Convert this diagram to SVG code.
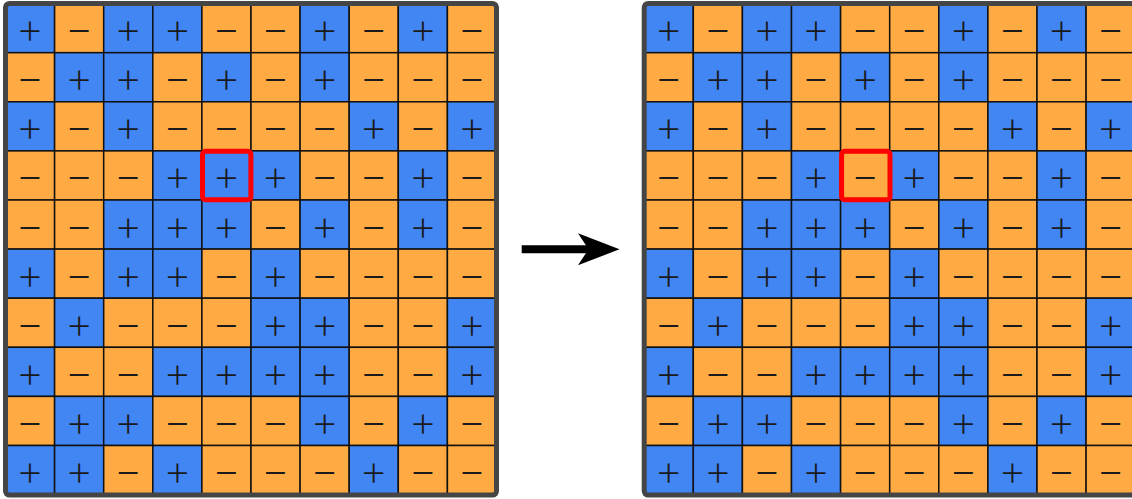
<svg xmlns="http://www.w3.org/2000/svg" xmlns:xlink="http://www.w3.org/1999/xlink" width="1132" height="499" viewBox="0 0 1132 499">
<style>
.b{fill:#4286f4;stroke:#111;stroke-width:1.5}
.o{fill:#ffaa42;stroke:#111;stroke-width:1.5}
.t{font-family:Inter,"Noto Sans",sans-serif;font-weight:200;font-size:44px;fill:#1a1a1a;text-anchor:middle;dominant-baseline:central}
.frame{fill:none;stroke:#454545;stroke-width:5}
.hl{fill:none;stroke:#ff0000;stroke-width:5}
</style>
<defs>
<g id="p"><rect width="49.1" height="49.1" class="b"/><text x="24.55" y="24.55" class="t">+</text></g>
<g id="m"><rect width="49.1" height="49.1" class="o"/><text x="24.55" y="24.55" class="t">−</text></g>
<g id="rows">
<use xlink:href="#p" x="0" y="0"/><use xlink:href="#m" x="49.1" y="0"/><use xlink:href="#p" x="98.2" y="0"/><use xlink:href="#p" x="147.3" y="0"/><use xlink:href="#m" x="196.4" y="0"/><use xlink:href="#m" x="245.5" y="0"/><use xlink:href="#p" x="294.6" y="0"/><use xlink:href="#m" x="343.7" y="0"/><use xlink:href="#p" x="392.8" y="0"/><use xlink:href="#m" x="441.9" y="0"/>
<use xlink:href="#m" x="0" y="49.1"/><use xlink:href="#p" x="49.1" y="49.1"/><use xlink:href="#p" x="98.2" y="49.1"/><use xlink:href="#m" x="147.3" y="49.1"/><use xlink:href="#p" x="196.4" y="49.1"/><use xlink:href="#m" x="245.5" y="49.1"/><use xlink:href="#p" x="294.6" y="49.1"/><use xlink:href="#m" x="343.7" y="49.1"/><use xlink:href="#m" x="392.8" y="49.1"/><use xlink:href="#m" x="441.9" y="49.1"/>
<use xlink:href="#p" x="0" y="98.2"/><use xlink:href="#m" x="49.1" y="98.2"/><use xlink:href="#p" x="98.2" y="98.2"/><use xlink:href="#m" x="147.3" y="98.2"/><use xlink:href="#m" x="196.4" y="98.2"/><use xlink:href="#m" x="245.5" y="98.2"/><use xlink:href="#m" x="294.6" y="98.2"/><use xlink:href="#p" x="343.7" y="98.2"/><use xlink:href="#m" x="392.8" y="98.2"/><use xlink:href="#p" x="441.9" y="98.2"/>
<use xlink:href="#m" x="0" y="147.3"/><use xlink:href="#m" x="49.1" y="147.3"/><use xlink:href="#m" x="98.2" y="147.3"/><use xlink:href="#p" x="147.3" y="147.3"/><use xlink:href="#p" x="245.5" y="147.3"/><use xlink:href="#m" x="294.6" y="147.3"/><use xlink:href="#m" x="343.7" y="147.3"/><use xlink:href="#p" x="392.8" y="147.3"/><use xlink:href="#m" x="441.9" y="147.3"/>
<use xlink:href="#m" x="0" y="196.4"/><use xlink:href="#m" x="49.1" y="196.4"/><use xlink:href="#p" x="98.2" y="196.4"/><use xlink:href="#p" x="147.3" y="196.4"/><use xlink:href="#p" x="196.4" y="196.4"/><use xlink:href="#m" x="245.5" y="196.4"/><use xlink:href="#p" x="294.6" y="196.4"/><use xlink:href="#m" x="343.7" y="196.4"/><use xlink:href="#p" x="392.8" y="196.4"/><use xlink:href="#m" x="441.9" y="196.4"/>
<use xlink:href="#p" x="0" y="245.5"/><use xlink:href="#m" x="49.1" y="245.5"/><use xlink:href="#p" x="98.2" y="245.5"/><use xlink:href="#p" x="147.3" y="245.5"/><use xlink:href="#m" x="196.4" y="245.5"/><use xlink:href="#p" x="245.5" y="245.5"/><use xlink:href="#m" x="294.6" y="245.5"/><use xlink:href="#m" x="343.7" y="245.5"/><use xlink:href="#m" x="392.8" y="245.5"/><use xlink:href="#m" x="441.9" y="245.5"/>
<use xlink:href="#m" x="0" y="294.6"/><use xlink:href="#p" x="49.1" y="294.6"/><use xlink:href="#m" x="98.2" y="294.6"/><use xlink:href="#m" x="147.3" y="294.6"/><use xlink:href="#m" x="196.4" y="294.6"/><use xlink:href="#p" x="245.5" y="294.6"/><use xlink:href="#p" x="294.6" y="294.6"/><use xlink:href="#m" x="343.7" y="294.6"/><use xlink:href="#m" x="392.8" y="294.6"/><use xlink:href="#p" x="441.9" y="294.6"/>
<use xlink:href="#p" x="0" y="343.7"/><use xlink:href="#m" x="49.1" y="343.7"/><use xlink:href="#m" x="98.2" y="343.7"/><use xlink:href="#p" x="147.3" y="343.7"/><use xlink:href="#p" x="196.4" y="343.7"/><use xlink:href="#p" x="245.5" y="343.7"/><use xlink:href="#p" x="294.6" y="343.7"/><use xlink:href="#m" x="343.7" y="343.7"/><use xlink:href="#m" x="392.8" y="343.7"/><use xlink:href="#p" x="441.9" y="343.7"/>
<use xlink:href="#m" x="0" y="392.8"/><use xlink:href="#p" x="49.1" y="392.8"/><use xlink:href="#p" x="98.2" y="392.8"/><use xlink:href="#m" x="147.3" y="392.8"/><use xlink:href="#m" x="196.4" y="392.8"/><use xlink:href="#m" x="245.5" y="392.8"/><use xlink:href="#p" x="294.6" y="392.8"/><use xlink:href="#m" x="343.7" y="392.8"/><use xlink:href="#p" x="392.8" y="392.8"/><use xlink:href="#m" x="441.9" y="392.8"/>
<use xlink:href="#p" x="0" y="441.9"/><use xlink:href="#p" x="49.1" y="441.9"/><use xlink:href="#m" x="98.2" y="441.9"/><use xlink:href="#p" x="147.3" y="441.9"/><use xlink:href="#m" x="196.4" y="441.9"/><use xlink:href="#m" x="245.5" y="441.9"/><use xlink:href="#m" x="294.6" y="441.9"/><use xlink:href="#p" x="343.7" y="441.9"/><use xlink:href="#m" x="392.8" y="441.9"/><use xlink:href="#m" x="441.9" y="441.9"/>
</g>
</defs>
<g id="grid-before" transform="translate(5.5,3.6)">
<use xlink:href="#rows"/>
<use xlink:href="#p" x="196.4" y="147.3"/>
<rect class="frame" x="0" y="0" width="491" height="491.5" rx="4"/>
<rect class="hl" x="197" y="147.7" width="48.4" height="48.4" rx="3"/>
</g>
<g id="grid-after" transform="translate(644.2,3.6)">
<use xlink:href="#rows"/>
<use xlink:href="#m" x="196.4" y="147.3"/>
<rect class="frame" x="0" y="0" width="491" height="491.5" rx="4"/>
<rect class="hl" x="197.4" y="147.7" width="48.4" height="48.4" rx="3"/>
</g>
<g id="connectors">
<line x1="521.7" y1="249.2" x2="590" y2="249.2" stroke="#000" stroke-width="8"/>
<polygon points="619.5,249.3 578,233.3 588.5,249.3 578,265.2" fill="#000"/>
</g>
</svg>
